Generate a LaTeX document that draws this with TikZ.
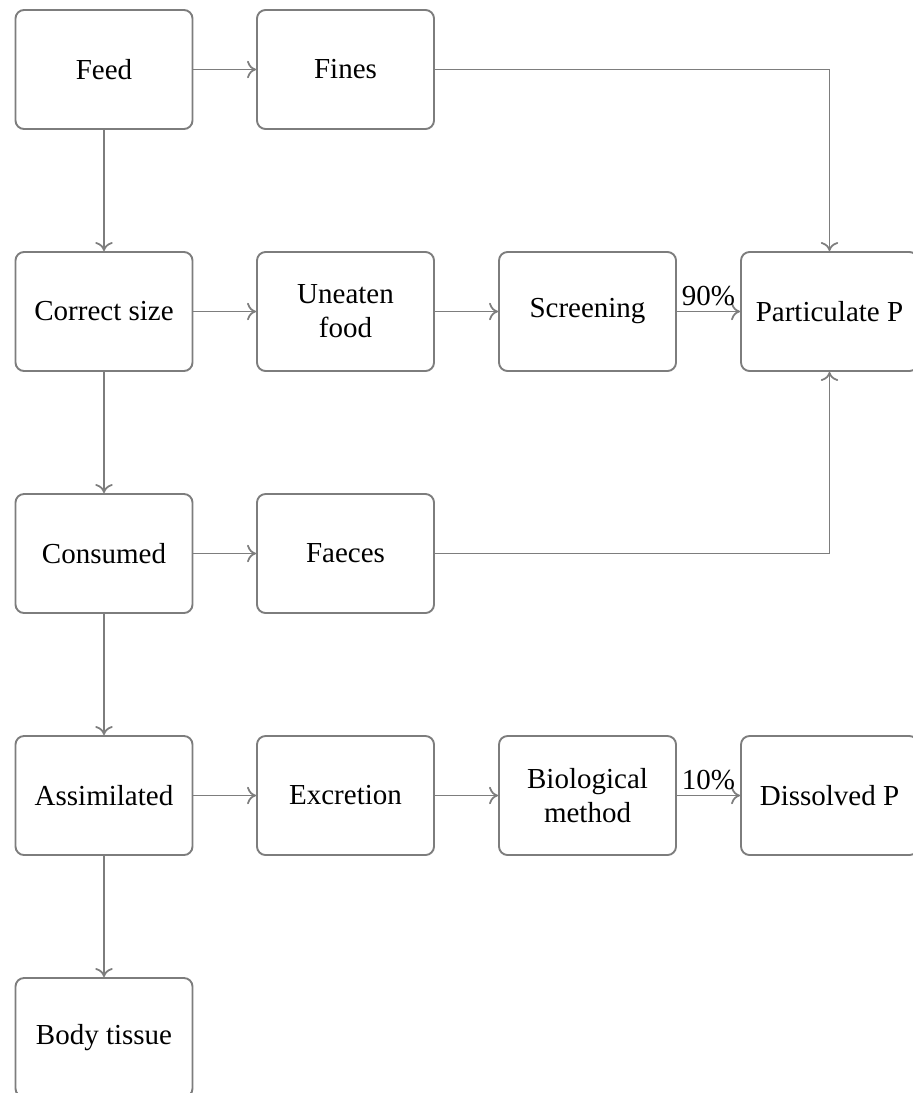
\documentclass[tikz,border=0pt]{standalone}
\usepackage{fontspec}
\setmainfont{Liberation Serif}
\usetikzlibrary{arrows.meta}
\definecolor{linegray}{RGB}{125,125,125}
\begin{document}
\begin{tikzpicture}[x=0.4pt,y=-0.4pt,
  box/.style={draw=linegray, line width=0.75pt, rounded corners=3.4pt,
    minimum width=70.8pt, minimum height=47.6pt, align=center, inner sep=2pt,
    font=\fontsize{11.6}{13.5}\selectfont},
  flow/.style={draw=linegray, line width=0.7pt, -{To[length=3.6pt,width=7pt]}},
  pct/.style={font=\fontsize{11.6}{13.5}\selectfont, inner sep=2pt}]
\useasboundingbox (0,0) rectangle (913,1093);
% column 1
\node[box] (feed)     at (104,69.5)   {Feed};
\node[box] (correct)  at (104,311.5)  {Correct size};
\node[box] (consumed) at (104,553.5)  {Consumed};
\node[box] (assim)    at (104,795.5)  {Assimilated};
\node[box] (body)     at (104,1037.5) {Body tissue};
% column 2
\node[box] (fines)    at (345.5,69.5)  {Fines};
\node[box] (uneaten)  at (345.5,311.5) {Uneaten\\food};
\node[box] (faeces)   at (345.5,553.5) {Faeces};
\node[box] (excr)     at (345.5,795.5) {Excretion};
% column 3
\node[box] (screen)   at (587.5,311.5) {Screening};
\node[box] (bio)      at (587.5,795.5) {Biological\\method};
% column 4
\node[box] (part)     at (829.5,311.5) {Particulate P};
\node[box] (diss)     at (829.5,795.5) {Dissolved P};
% main chain
\draw[flow] (feed) -- (correct);
\draw[flow] (correct) -- (consumed);
\draw[flow] (consumed) -- (assim);
\draw[flow] (assim) -- (body);
% side flows
\draw[flow] (feed) -- (fines);
\draw[flow] (correct) -- (uneaten);
\draw[flow] (consumed) -- (faeces);
\draw[flow] (assim) -- (excr);
\draw[flow] (uneaten) -- (screen);
\draw[flow] (excr) -- (bio);
\draw[flow] (screen) -- node[pct, above] {90\%} (part);
\draw[flow] (bio) -- node[pct, above] {10\%} (diss);
\draw[flow] (fines.east) -| (part.north);
\draw[flow] (faeces.east) -| (part.south);
\end{tikzpicture}
\end{document}
